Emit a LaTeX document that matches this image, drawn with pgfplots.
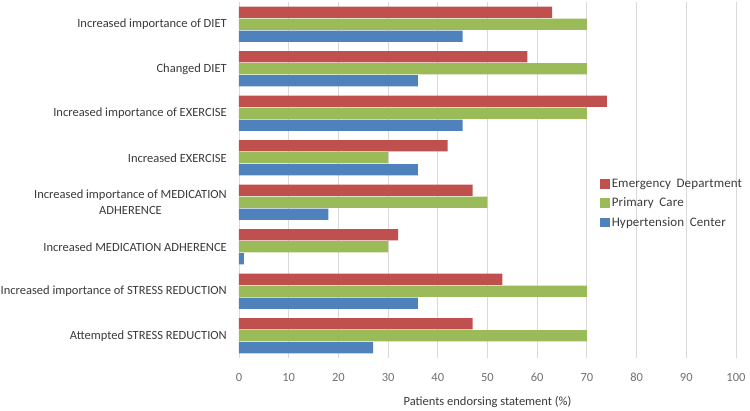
\documentclass[border=0pt]{standalone}
\usepackage{pgfplots}
\pgfplotsset{compat=1.18}
\usepackage{fontspec}
\setmainfont{Carlito}
\newfontfamily\legfont[LetterSpace=1,WordSpace=1.8]{Carlito}
\definecolor{edred}{HTML}{C0504D}
\definecolor{pcgreen}{HTML}{9BBB59}
\definecolor{hcblue}{HTML}{4F81BD}
\definecolor{gridgray}{HTML}{D9D9D9}
\definecolor{labgray}{HTML}{3A3A3A}
\definecolor{tickgray}{HTML}{707070}
\begin{document}
\begin{tikzpicture}
\useasboundingbox (-239pt,-52pt) rectangle (511pt,358pt);
\begin{axis}[
    scale only axis,
    width=497pt, height=356pt,
    xbar,
    xmin=0, xmax=100,
    ymin=-0.5, ymax=7.5,
    y dir=reverse,
    xtick={0,10,...,100},
    ytick={0,...,7},
    yticklabels={
        {Increased importance of DIET},
        {Changed DIET},
        {Increased importance of EXERCISE},
        {Increased EXERCISE},
        {Increased importance of MEDICATION\\ADHERENCE},
        {Increased MEDICATION ADHERENCE},
        {Increased importance of STRESS REDUCTION},
        {Attempted STRESS REDUCTION}},
    major tick length=0pt,
    xmajorgrids,
    grid style={gridgray, line width=0.8pt},
    axis line style={draw=none},
    yticklabel style={font=\fontsize{12.5}{15.5}\selectfont, text=labgray, align=center, inner sep=0pt, xshift=-12pt},
    xticklabel style={font=\fontsize{12.5}{15}\selectfont, text=tickgray, inner sep=0pt, yshift=-15pt},
    /pgf/number format/assume math mode=true,
    xlabel={Patients endorsing statement (\%)},
    xlabel style={font=\fontsize{12.5}{15}\selectfont, text=labgray, at={(axis description cs:0.5,0)}, anchor=center, yshift=-44pt},
    bar width=0.25,
    legend style={at={(axis description cs:0.7245,0.512)}, anchor=north west, draw=none, fill=none,
        font=\legfont\fontsize{13}{15}\selectfont, text=labgray, row sep=5pt, inner sep=1pt,
        /tikz/every even column/.append style={column sep=2pt}},
    legend cell align=left,
    legend image code/.code={\fill[#1] (0pt,-4.8pt) rectangle (9.5pt,4.8pt);},
]
\addplot[fill=edred, draw=none, bar shift=-0.27] coordinates {
    (63,0) (58,1) (74,2) (42,3) (47,4) (32,5) (53,6) (47,7)
};
\addplot[fill=pcgreen, draw=none, bar shift=0] coordinates {
    (70,0) (70,1) (70,2) (30,3) (50,4) (30,5) (70,6) (70,7)
};
\addplot[fill=hcblue, draw=none, bar shift=0.27] coordinates {
    (45,0) (36,1) (45,2) (36,3) (18,4) (1,5) (36,6) (27,7)
};
\legend{Emergency Department, Primary Care, Hypertension Center}
\end{axis}
\end{tikzpicture}
\end{document}
